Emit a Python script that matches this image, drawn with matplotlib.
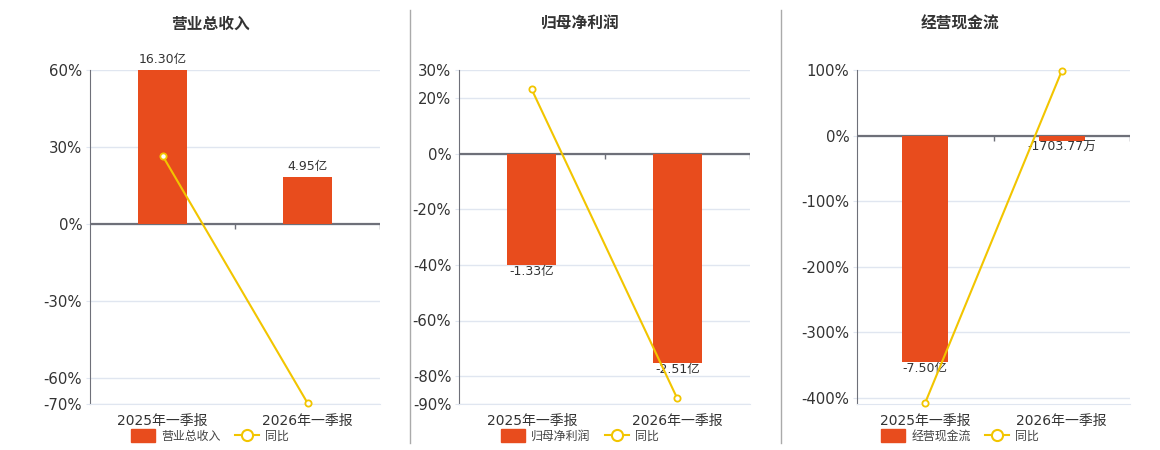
import matplotlib
matplotlib.use('Agg')
import matplotlib.pyplot as plt
from matplotlib.lines import Line2D
from matplotlib.patches import Patch

plt.rcParams['font.family'] = ['DejaVu Sans', 'Noto Sans CJK SC']

# data
periods = ['2025年一季报', '2026年一季报']
titles = ['营业总收入', '归母净利润', '经营现金流']
bar_values = [[16.30, 4.95], [-1.33, -2.51], [-7.50, -0.170377]]   # 亿
bar_labels = [['16.30亿', '4.95亿'], ['-1.33亿', '-2.51亿'], ['-7.50亿', '-1703.77万']]
yoy = [[26.7, -69.6], [23.0, -88.0], [-407.0, 98.5]]               # %
pct_ticks = [[-70, -60, -30, 0, 30, 60],
             [-90, -80, -60, -40, -20, 0, 20, 30],
             [-400, -300, -200, -100, 0, 100]]
pct_lims = [(-70, 60), (-90, 30), (-409, 100)]
# 亿 per percent on the hidden bar axis
bar_scale = [16.30 / 60, 3.0 / 90, 7.50 / 345.6]

BAR = '#E84C1D'
LINE = '#F2C500'
GRID = '#E0E6F0'
TEXT = '#333333'

W, H = 1160, 450
fig = plt.figure(figsize=(W / 100, H / 100), dpi=100)

# axes boxes in pixels: left, right
boxes = [(90, 380), (459, 750), (857, 1130)]
centers = [210, 580, 960]
top_px, bot_px = 70, 404

for i in range(3):
    l, r = boxes[i]
    ax = fig.add_axes([l / W, 1 - bot_px / H, (r - l) / W, (bot_px - top_px) / H])
    lo, hi = pct_lims[i]
    ax.set_xlim(-0.5, 1.5)
    ax.set_ylim(lo, hi)
    ax.set_yticks(pct_ticks[i])
    ax.set_yticklabels([f'{t}%' for t in pct_ticks[i]])
    ax.set_xticks(range(len(periods)))
    ax.set_xticklabels(periods)
    ax.grid(axis='y', color=GRID, lw=1)
    ax.set_axisbelow(True)
    for s in ['top', 'right']:
        ax.spines[s].set_visible(False)
    ax.spines['left'].set_color('#6E7079')
    ax.spines['bottom'].set_color(GRID)
    ax.tick_params(axis='y', length=3, color=GRID, labelsize=10.7, labelcolor=TEXT, pad=2.5)
    ax.tick_params(axis='x', length=0, labelsize=10, labelcolor=TEXT, pad=7)

    # zero line with boundary ticks
    ax.axhline(0, color='#6E7079', lw=1.6, zorder=3)
    tick_len = (hi - lo) * 5 / (bot_px - top_px)
    ax.vlines([0.5, 1.5], -tick_len, 0, color='#6E7079', lw=1, zorder=3)

    # hidden bar axis
    ax2 = ax.twinx()
    ax2.set_ylim(lo * bar_scale[i], hi * bar_scale[i])
    ax2.axis('off')
    bars = ax2.bar(range(len(periods)), bar_values[i], width=0.34, color=BAR, zorder=2)
    ax2.bar_label(bars, labels=bar_labels[i], padding=0 if bar_values[i][0] < 0 else 3,
                  fontsize=9, color=TEXT)
    ax2.plot(range(len(periods)), yoy[i], color=LINE, lw=1.5, marker='o', ms=4.5,
             mfc='white', mec=LINE, mew=1.3, transform=ax.transData, zorder=4,
             clip_on=False)

    ax.set_title(titles[i], fontsize=11.3, fontweight='bold', color=TEXT, pad=0,
                 x=(centers[i] - l) / (r - l), y=1 + (70 - 22) / (bot_px - top_px) - 0.02)

    handles = [Patch(color=BAR, label=titles[i]),
               Line2D([], [], color=LINE, lw=1.5, marker='o', ms=8, mfc='white',
                      mec=LINE, mew=1.5, label='同比')]
    leg = ax.legend(handles=handles, loc='center', ncol=2, frameon=False,
                    bbox_to_anchor=(centers[i] / W, 1 - 436 / H),
                    bbox_transform=fig.transFigure, fontsize=8.6, handlelength=2.0,
                    handleheight=1.3, columnspacing=1.2, handletextpad=0.5)
    for t in leg.get_texts():
        t.set_color('#444444')

# separators
for x in [410, 781]:
    fig.add_artist(Line2D([x / W, x / W], [1 - 443 / H, 1 - 10 / H], color='#AAAAAA', lw=1))

fig.savefig('out.png', dpi=100)
